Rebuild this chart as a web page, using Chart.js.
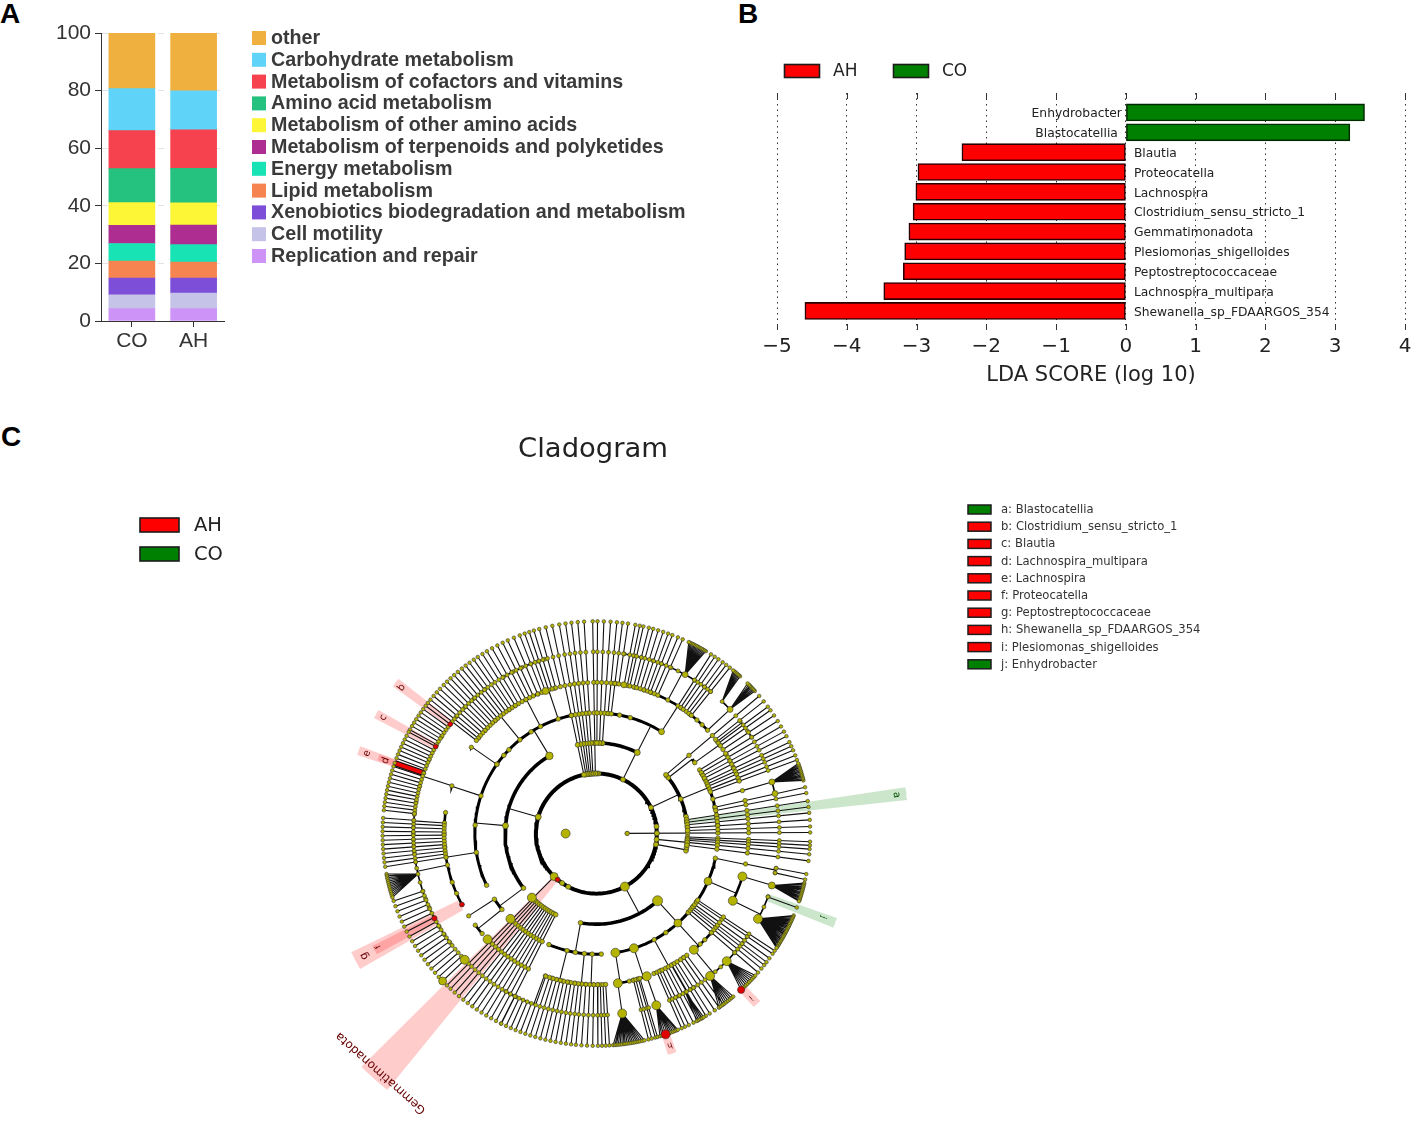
<!DOCTYPE html>
<html><head><meta charset="utf-8">
<script src="https://cdn.jsdelivr.net/npm/chart.js@4/dist/chart.umd.js"></script>
<style>
html,body{margin:0;padding:0;background:#fff;width:1418px;height:1143px;overflow:hidden}
canvas{position:absolute}
.tag{position:absolute;font:bold 28px "Liberation Sans",Arial,sans-serif;color:#000;line-height:28px}
</style></head><body>
<div class="tag" style="left:0;top:0">A</div>
<div class="tag" style="left:738px;top:0">B</div>
<div class="tag" style="left:1px;top:423px">C</div>
<canvas id="a" width="730" height="400" style="left:0;top:0"></canvas>
<canvas id="b" width="674" height="388" style="left:744px;top:0"></canvas>
<canvas id="c" width="1418" height="743" style="left:0;top:400px"></canvas>
<script>
// ---------- Panel A ----------
const groups=['CO','AH'];
const pathways=['Replication and repair','Cell motility','Xenobiotics biodegradation and metabolism','Lipid metabolism','Energy metabolism','Metabolism of terpenoids and polyketides','Metabolism of other amino acids','Amino acid metabolism','Metabolism of cofactors and vitamins','Carbohydrate metabolism','other'];
const pathwayColors=['#CE93F6','#C5C3E8','#7D4FD8','#F58450','#18E3B5','#AD2E90','#FCF636','#25C27F','#F5424E','#5FD4F8','#F0B040'];
const coValues=[4.3,4.8,5.8,5.9,6.1,6.3,7.9,11.8,13.2,14.6,19.3];
const ahValues=[4.3,5.4,5.2,5.6,6.0,6.8,7.7,12.0,13.4,13.5,20.1];
// ---------- Panel B ----------
const taxa=['Enhydrobacter','Blastocatellia','Blautia','Proteocatella','Lachnospira','Clostridium_sensu_stricto_1','Gemmatimonadota','Plesiomonas_shigelloides','Peptostreptococcaceae','Lachnospira_multipara','Shewanella_sp_FDAARGOS_354'];
const ldaScores=[3.42,3.21,-2.35,-2.98,-3.01,-3.05,-3.11,-3.17,-3.19,-3.47,-4.6];
// ---------- Panel C: rows are [level, parentAngle, ...childAngles] in degrees ----------
const ringRadii=[0,31,61,92,122.5,153.5,184.5,215.5];
const rootChildren=[-124.5,-117.7,-62,-10.4,-5.6,0.3,6.8,25.6,64,88,89.5,91,92.5,94,95.5,97,99,101,164,225.7,230];
const clades=[
[3,-62,-47.9,-100],[3,-10.4,-11,-8.9],[3,-5.6,-3.7,-5,-6.5],[3,25.6,39.7,38,22.4,10.7,7.6,4.5],[3,64,63.4,86,87.5,89,91,92],[3,164,121,175,217],
[4,-47.9,-81,-72,-61.6,-55.2,-47.9,-40.7,-37.3,-34.4,-23.3,-11.8],[4,-100,-113,-104,-100,-95.7,-92,-87.7],[4,22.4,31.8,29.4,26.9,23.6,16.6,12.1,8,4.2],[4,38,36],[4,63.4,84.5,79,73.8,57.6],
[4,121,145,139.6,136,129,122.5,117.4,108.3,101.9,93.9],[4,175,145,161.8,176,189,205.4],[4,217,213,219],
[5,-81,-81.9,-77.5,-76,-74.4,-70.7],[5,-72,-70.7],[5,-61.6,-67.8,-65.1,-60.3,-55.2],[5,-47.9,-50.2,-47,-44.6,-41,-38.3],[5,-23.3,-16.5,-26.4],[5,-11.8,-11.6],
[5,-104,-109.6,-107,-105,-103,-100.5,-98],[5,-95.7,-95.6,-94],[5,-92,-91,-89.5],[5,31.8,31.5,28.7,26,23.3,20.6],[5,36,37.5,36],[5,16.6,16.5],
[5,57.6,79.6,75.5,71.7,69,62,56.3,51.8,48.7,46,43.1],[5,84.5,83.5,82.5],[5,117.4,117.6,112.5],[5,108.3,109.5,105.9],[5,145,145.2],[5,129,140.6,137,131.6,125,122.3],[5,161.8,161.6],
[5,189,172,176,180,185,189,192,198.8,203.3,208],[5,213,213],[5,219,217.3,221.4],
[6,-81.9,-81.9],[6,-70.7,-70.9],[6,-60.3,-65.9,-63.5,-60.9,-59,-57.8],[6,-50.2,-51.6,-49.5,-47.2,-44.6,-41,-37.2,-34.5],[6,-16.5,-16.6],[6,-26.4,-20.3,-23.8,-28],[6,-11.6,-11,-12.5],
[6,161.6,143,147.9,151.4,156,160.6,165,170,173.5],[6,37.5,38.2,34.4,32],[6,62,81.2,78,75.8,72,69.2,65.9,63.5,61,57.6,53.8,51.4],[6,43.1,43.1,46.6],[6,16.5,16.5,12.7],
[6,117.6,120.5,117,114,111,108.5,106.4],[6,137,140,136,132,127.5],[6,176,174,176,178,180,182,184,186],[6,192,189,191,192.9,195.6,198.5,201,204,207.8,210.8,213.8,216.8],
[6,-110,-119.7,-118,-116]
];
const chainsL1=[0.3];
const chainsL2=[91,93.3,95,96.7,98.3,100,101.9,225.7];
const chainsL3=[86.2,88,89.7,40.4,8.8,7.2,5.6,3.7,1.9,-2.2,-3.2,-4.2,-5.6,-7.4,227,228.5,230,231.5,233,234.5,236,237.5,239,240.5,242,243.5];
const chainsL4=[84.5,83,12.6,11,30.3,28.7,27.3,25.5,24.3,23.1,21.6,20.3,-40.9,-39.5,-38.3,-37.3,-36,-34.5,-33.5];
const chainsL5=[-88.5,-87.5,-86.5,-75.9,-75,-74,-73.4,81.5,79.5,78.3,77.3,75.8,74.6,73.2,71.8,70.4,69.2,67.6,66.2,57.6,56.4,55.2,53.8,52.6,51.4,38.5,36.7,35.5,33.8,32,
-66.5,-65.5,-64.4,-63,-61.8,-60.5,-59.2,-58,-56.4,-55,-53.6,
-89.6,-91,-92.5,-94,-95.5,-96.8,-98.2,-99.6,-101,-102.4,-103.8,-105.2,-106.6,-108,-109.4,
103.7,105.5,107,108.3,109.6,111,112.7,114.5,116,117.6,119.2,120.8,122.2,123.7,125,126.4,127.7,129,130.4,131.7,133,134.3,135.6,137,138.3,139.6,140.9,142,
177,178.2,179.4,180.6,181.8,183,184.2,185.4,186.6,187.8,189];
const chainsL6=[-11,-12.5,-20.4,-110.8,-112.2,-113.6,-115,-116.4,
143,144.1,145.2,146.3,147.4,148.5,149.6,150.7,151.4,152.6,153.7,154.8,155.9,157,158.1,159.2,160.6,161.6,162.7,163.8,164.9,166,167.1,168.2,169.3,170.4,171.5,172.6,173.7,175.8,
198.5,200,201.5,203,204.5,206,207.5,209,210.5,212,213.5,215,216.5,218,219.5,221,222.5,224];
const fans=[
[6,-81.9,-85.5,-85,-84.6,-84.1,-83.6,-83.1,-82.6,-82.2,-81.7,-81.2,-80.7,-80.2,-79.7,-79.2,-78.7,-78.2,-77.6,-77],
[6,-70.9,-72.7,-72.2,-71.7,-71.1,-70.5,-70,-69.5,-69,-68.5,-68,-67.6],
[6,-51.6,-55,-54.4,-53.8,-53.2,-52.6,-52,-51.4,-50.8,-50.2],
[6,-44.6,-47.4,-46.8,-46.2,-45.6,-45,-44.4,-43.8,-43.2,-42.6,-42],
[6,-60.9,-62,-61.4,-60.9,-60.4,-59.9],
[6,-16.6,-13.5,-13.9,-14.3,-14.7,-15.1,-15.5,-15.9,-16.3,-16.7,-17.1,-17.5,-17.9,-18.3,-18.6],
[6,-28,-22.7,-23.1,-23.5,-23.9,-24.3,-24.7,-25.1,-25.4,-25.8,-26.2,-26.6,-27,-27.4,-27.8,-28.2,-28.5,-28.9,-29.3,-29.7,-30.1,-30.5,-30.9,-31.3,-31.6,-32,-32.3,-32.6],
[6,61,59.2,59.6,60,60.4,60.8,61.2,61.6,62,62.4,62.8,63.2,63.6,64,64.4],
[6,43.1,42.2,42.6,43,43.4,43.8,44.1,44.5,45],
[6,46.6,47.8,48.2,48.6,49,49.4,49.8,50.2],
[6,16.5,14.5,14.9,15.3,15.7,16.1,16.5,16.9,17.3,17.7,18.1,18.5,18.9,19.3],
[6,192.9,191,191.5,192,192.5,193,193.5,194,194.5,195,195.5,196,196.5,197,197.5]
];
const bigNodes=[[1,180,4.5],[1,0.3,2.2],[2,225.7,4],[3,225,4.5],[4,225,4.5],[5,224.4,4.5],[6,224,4.5],[7,224,4],[3,-47.9,5],[4,-23.3,4],[4,-47.9,4],[2,-62,4.5],[4,-81,4.5],[4,-72,4.5],[5,-81.9,4.5],[5,-70.7,4.5],[6,-81.9,4.5],[6,-70.9,4.5],[5,-50.2,4.5],[6,-51.6,4.5],[6,-44.6,4.5],[5,-16.5,4.5],[5,-26.4,4.5],[6,-16.6,3.5],[6,-28,4.5],[3,121,3.8],[3,175,3],[2,164,3],[5,109.5,3.5],[5,79.6,3],[4,57.6,3],[3,63.4,3],[6,61,3],[6,43.1,3],[6,16.5,3],[6,12.7,3]];
const redNodes=[[6,143,2.4],[6,151.4,2.4],[5,208,2.4],[6,207.8,2.6],[7,-71.1,4.5],[7,-47.4,3.6],[2,230,2.4]];
// highlighted sectors: label, inner radius, outer radius, angle from, angle to, colour key
const sectors=[
['Gemmatimonadota',61,335,225,231,'r'],['a: Blastocatellia',92,315,6.2,8.6,'g'],['j: Enhydrobacter',184,257,-21.8,-19.5,'g'],['i: Plesiomonas_shigelloides',214,237,-48,-45.8,'r'],['h: Shewanella_sp_FDAARGOS_354',214,236,-72.2,-70,'r'],
['b: Clostridium_sensu_stricto_1',184,254,141.8,143.9,'r'],['c: Blautia',184,253,150.3,152.4,'r'],['e: Lachnospira',184,254,159.6,161.7,'r'],['d: Lachnospira_multipara',184,233,159.8,161.4,'r'],['g: Peptostreptococcaceae',155,275,206,210,'r'],['f: Proteocatella',184,253,206.8,209,'r']];
const sectorLabels=[['a',305,7.4,'#004d00',10],['b',246,143,'#660000',10],['c',245,151.3,'#660000',10],['d',225,160.8,'#660000',10],['e',245,160.6,'#660000',10],['f',248,207.6,'#660000',8],['g',265,208,'#660000',11],['h',227,-71,'#660000',8],['i',228,-47,'#660000',8],['j',244,-20.4,'#004d00',8],['Gemmatimonadota',326,-131.8,'#660000',12]];
const featureKeys=[['a: Blastocatellia','g'],['b: Clostridium_sensu_stricto_1','r'],['c: Blautia','r'],['d: Lachnospira_multipara','r'],['e: Lachnospira','r'],['f: Proteocatella','r'],['g: Peptostreptococcaceae','r'],['h: Shewanella_sp_FDAARGOS_354','r'],['i: Plesiomonas_shigelloides','r'],['j: Enhydrobacter','g']];
const classKeys=[['AH','r'],['CO','g']];

const DJ='"DejaVu Sans",sans-serif', LB='"Liberation Sans",Arial,sans-serif';
Chart.defaults.animation=false;Chart.defaults.responsive=false;Chart.defaults.devicePixelRatio=1;
Chart.defaults.plugins.legend.display=false;Chart.defaults.plugins.tooltip.enabled=false;
const solid={r:'#ff0000',g:'#008000'};

function drawKey(ctx,x,y,w,h,fill,text,tx,font,color,lw){
  ctx.save();ctx.fillStyle=fill;ctx.fillRect(x,y,w,h);
  if(lw){ctx.strokeStyle='#1c1c1c';ctx.lineWidth=lw;ctx.strokeRect(x,y,w,h);}
  ctx.fillStyle=color;ctx.font=font;ctx.textBaseline='middle';ctx.textAlign='left';ctx.fillText(text,tx,y+h/2+0.5);ctx.restore();
}
// ---- A
new Chart(document.getElementById('a'),{type:'bar',
 data:{labels:groups,datasets:pathways.map((p,i)=>({label:p,data:[coValues[i],ahValues[i]],backgroundColor:pathwayColors[i],barThickness:46,borderWidth:0}))},
 options:{layout:{padding:{top:33,left:0,right:505.5,bottom:0}},
  scales:{
   x:{stacked:true,afterFit:s=>{s.height=79},grid:{display:true,offset:false,drawOnChartArea:false,tickLength:6,tickColor:'#333'},border:{color:'#333',width:1},ticks:{color:'#333',font:{family:LB,size:21},padding:2}},
   y:{stacked:true,min:0,max:100,afterFit:s=>{s.width=101},ticks:{stepSize:20,color:'#333',font:{family:LB,size:21},padding:4},grid:{color:'#e2e2e2',tickColor:'#333',tickLength:6,tickBorderDash:[]},border:{color:'#333',width:1,dash:[6,8]}}
  }},
 plugins:[{id:'keysA',afterDraw(c){
   const ctx=c.ctx;[...pathways].reverse().forEach((p,i)=>{
     const col=pathwayColors[pathways.length-1-i];
     drawKey(ctx,252,31+i*21.8,14,14,col,p,271,'bold 19.7px '+LB,'#3a3a3a',0);
   });
 }}]
});
// ---- B
const pts=(test)=>ldaScores.map((v,i)=>({x:v,y:i})).filter(d=>test(d.x));
const labelGaps=[-4,-8,8,8,8,8,8,8,8,8,8];
new Chart(document.getElementById('b'),{type:'bar',
 data:{datasets:[
  {label:'AH',data:pts(v=>v<0),backgroundColor:'#ff0000',borderColor:'#2a0000',borderWidth:1.6,borderSkipped:false,barThickness:17,grouped:false},
  {label:'CO',data:pts(v=>v>0),backgroundColor:'#008000',borderColor:'#002a00',borderWidth:1.6,borderSkipped:false,barThickness:17,grouped:false}]},
 options:{indexAxis:'y',layout:{padding:{top:93,left:33,right:13,bottom:0}},
  scales:{
   x:{type:'linear',min:-5,max:4,afterFit:s=>{s.height=58},
      ticks:{stepSize:1,color:'#222',font:{family:DJ,size:20},padding:5,maxRotation:0,callback:v=>v<0?'\u2212'+Math.abs(v):''+v},
      grid:{color:'#333',lineWidth:1,tickLength:0},border:{display:false,dash:[1.5,4]},
      title:{display:true,text:'LDA SCORE (log 10)',color:'#222',font:{family:DJ,size:21},padding:{top:2,bottom:0}}},
   y:{type:'linear',display:false,offset:false,reverse:true,min:-0.98,max:10.96}
  }},
 plugins:[{id:'keysB',afterDraw(c){
   const ctx=c.ctx,x=c.scales.x,y=c.scales.y;
   ctx.save();ctx.strokeStyle='#333';ctx.lineWidth=1;
   for(let v=-5;v<=4;v++){const p=Math.round(x.getPixelForValue(v))+0.5;ctx.beginPath();ctx.moveTo(p,93);ctx.lineTo(p,99);ctx.moveTo(p,324);ctx.lineTo(p,330);ctx.stroke();}
   ctx.font='12.3px '+DJ;ctx.fillStyle='#222';ctx.textBaseline='middle';
   taxa.forEach((t,i)=>{const neg=ldaScores[i]<0;ctx.textAlign=neg?'left':'right';ctx.fillText(t,x.getPixelForValue(0)+labelGaps[i],y.getPixelForValue(i)+1.5);});
   ctx.restore();
   drawKey(ctx,40.5,64.5,35,13,solid.r,'AH',89,'17px '+DJ,'#222',1.6);
   drawKey(ctx,149.5,64.5,35,13,solid.g,'CO',198,'17px '+DJ,'#222',1.6);
 }}]
});
// ---- C
const P=(r,a)=>({x:r*Math.cos(a*Math.PI/180),y:r*Math.sin(a*Math.PI/180)});
const L=(lev,a)=>P(ringRadii[lev],a);
const GAP={x:NaN,y:NaN};
const thin=[],arcs={2:[],3:[],4:[],5:[],6:[]},nodePts=[],nodeR=[],nodeCol=[];
const tipR={1:2,2:2.5,3:2.4,4:2.3,5:2.2,6:2,7:1.8};
function node(lev,a,r,c){nodePts.push(L(lev,a));nodeR.push(r||tipR[lev]);nodeCol.push(c||'#b4b400');}
function arc(lev,a0,a1){const n=Math.max(1,Math.ceil((a1-a0)/1.5));for(let i=0;i<=n;i++)arcs[lev].push(L(lev,a0+(a1-a0)*i/n));arcs[lev].push(GAP);}
arc(2,0,360);rootChildren.forEach(a=>node(2,a));
clades.forEach(([lev,pa,...ch])=>{
  thin.push(L(lev-1,pa),L(lev,pa),GAP);
  const all=[pa,...ch];arc(lev,Math.min(...all),Math.max(...all));ch.forEach(a=>node(lev,a));
});
function chain(lev,list){list.forEach(a=>{thin.push(L(lev,a),L(7,a),GAP);for(let k=lev;k<=7;k++)node(k,a);});}
chain(1,chainsL1);chain(2,chainsL2);chain(3,chainsL3);chain(4,chainsL4);chain(5,chainsL5);chain(6,chainsL6);
fans.forEach(([lev,a,...tips])=>{tips.forEach(t=>{thin.push(L(lev,a),L(7,t),GAP);node(7,t);});});
bigNodes.forEach(([lev,a,r])=>node(lev,a,r));
redNodes.forEach(([lev,a,r])=>node(lev,a,r,'#e00000'));
const sectorShape=(r0,r1,a0,a1)=>{const o=[];for(let i=0;i<=6;i++)o.push(P(r1,a0+(a1-a0)*i/6));for(let i=6;i>=0;i--)o.push(P(r0,a0+(a1-a0)*i/6));o.push(o[0]);return o;};
const ds=[];
sectors.forEach(([lab,r0,r1,a0,a1,k])=>ds.push({label:lab,data:sectorShape(r0,r1,a0,a1),showLine:true,fill:'shape',backgroundColor:k==='r'?'rgba(255,0,0,0.2)':'rgba(0,128,0,0.2)',borderWidth:0,pointRadius:0,order:5}));
ds.push({label:'branches',data:thin,showLine:true,spanGaps:false,borderColor:'#111',borderWidth:1.1,pointRadius:0,order:3});
const arcW={2:4,3:3.6,4:3,5:2.6,6:1.6};
Object.keys(arcs).forEach(l=>ds.push({label:'clade arcs '+l,data:arcs[l],showLine:true,spanGaps:false,borderColor:'#000',borderWidth:arcW[l],pointRadius:0,order:2}));
ds.push({label:'d outline',data:[L(6,160.6),L(7,160.6)],showLine:true,borderColor:'#111',borderWidth:6,pointRadius:0,order:2});
ds.push({label:'d',data:[L(6,160.6),L(7,160.6)],showLine:true,borderColor:'#ee0000',borderWidth:4,pointRadius:0,order:1.5});
ds.push({label:'nodes',data:nodePts,showLine:false,pointRadius:nodeR,pointBackgroundColor:nodeCol,pointBorderColor:'#333',pointBorderWidth:0.6,order:1});
new Chart(document.getElementById('c'),{type:'scatter',data:{datasets:ds},
 options:{layout:{padding:0},scales:{x:{type:'linear',display:false,min:-595.5,max:822.5},y:{type:'linear',display:false,min:-308.5,max:434.5}}},
 plugins:[{id:'keysC',afterDraw(c){
   const ctx=c.ctx,x=c.scales.x,y=c.scales.y;
   ctx.save();ctx.fillStyle='#222';ctx.font='27.4px '+DJ;ctx.textAlign='center';ctx.textBaseline='middle';ctx.fillText('Cladogram',593,50);ctx.restore();
   sectorLabels.forEach(([t,r,a,col,fs])=>{const p=P(r,a);ctx.save();ctx.translate(x.getPixelForValue(p.x),y.getPixelForValue(p.y));ctx.rotate((90-a)*Math.PI/180);ctx.fillStyle=col;ctx.font=fs+'px '+DJ;ctx.textAlign='center';ctx.textBaseline='middle';ctx.fillText(t,0,0);ctx.restore();});
   classKeys.forEach(([t,k],i)=>drawKey(ctx,140,118+i*29,39,14,solid[k],t,194,'19.5px '+DJ,'#222',1.6));
   featureKeys.forEach(([t,k],i)=>drawKey(ctx,968,105+i*17.2,23,9,solid[k],t,1001,'11.6px '+DJ,'#333',1.5));
 }}]
});
</script>
</body></html>
